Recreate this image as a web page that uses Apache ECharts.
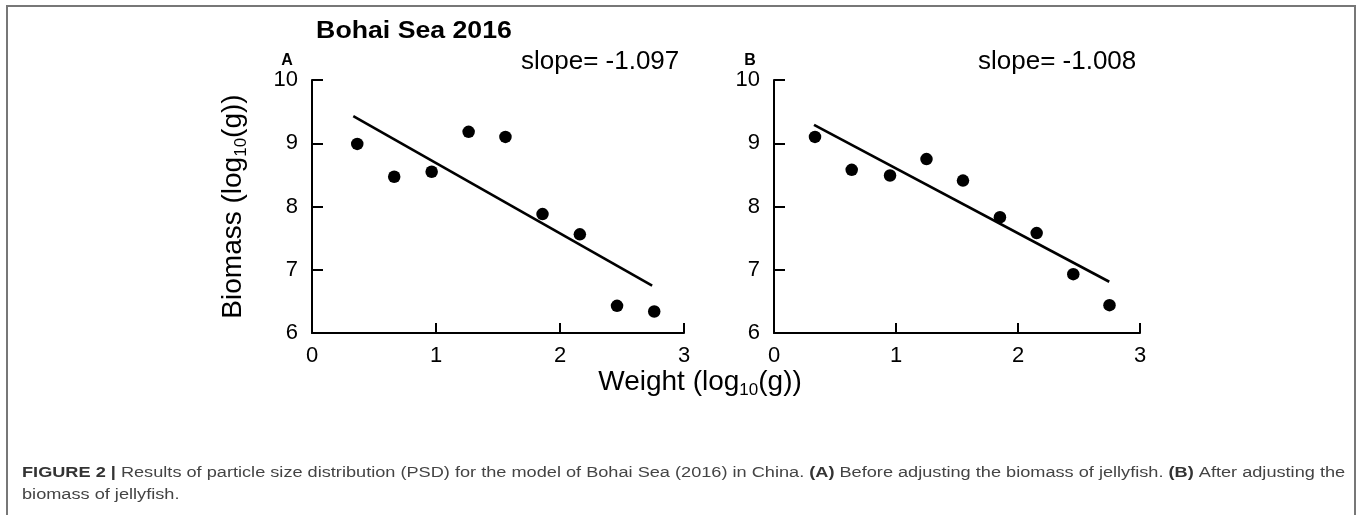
<!DOCTYPE html>
<html>
<head>
<meta charset="utf-8">
<script src="https://cdn.jsdelivr.net/npm/echarts@6/dist/echarts.min.js"></script>
<style>
html,body{margin:0;padding:0;background:#fff;}
#chart{width:1360px;height:515px;}
</style>
</head>
<body>
<div id="chart"></div>
<script>
// ---- data ----
const weightA = [0.365, 0.663, 0.965, 1.263, 1.56, 1.859, 2.16, 2.46, 2.76];
const biomassA = [8.99, 8.47, 8.55, 9.18, 9.10, 7.88, 7.56, 6.43, 6.34];
const weightB = [0.336, 0.637, 0.951, 1.25, 1.549, 1.852, 2.153, 2.453, 2.75];
const biomassB = [9.10, 8.58, 8.49, 8.75, 8.41, 7.83, 7.58, 6.93, 6.44];
const fitX_A = [0.333, 2.743];
const fitY_A = [9.43, 6.75];
const fitX_B = [0.328, 2.748];
const fitY_B = [9.29, 6.81];
const slopeA = '-1.097';
const slopeB = '-1.008';
const xTicks = [0, 1, 2, 3];
const yTicks = [6, 7, 8, 9, 10];

const FONT = '"Liberation Sans", Arial, Helvetica, sans-serif';
const zip = (xs, ys) => xs.map((x, i) => [x, ys[i]]);

const chart = echarts.init(document.getElementById('chart'), null, {renderer: 'canvas'});

function xAxisCfg(idx) {
  return {
    type: 'value', gridIndex: idx,
    min: xTicks[0], max: xTicks[xTicks.length - 1], interval: 1,
    axisLine: {show: true, onZero: false, lineStyle: {color: '#000', width: 2}},
    axisTick: {show: true, inside: true, length: 10, lineStyle: {color: '#000', width: 2}},
    axisLabel: {fontSize: 22, color: '#000', fontFamily: FONT, margin: 12},
    splitLine: {show: false}
  };
}
function yAxisCfg(idx, withName) {
  const c = {
    type: 'value', gridIndex: idx,
    min: yTicks[0], max: yTicks[yTicks.length - 1], interval: 1,
    axisLine: {show: true, onZero: false, lineStyle: {color: '#000', width: 2}},
    axisTick: {show: true, inside: true, length: 11, lineStyle: {color: '#000', width: 2}},
    axisLabel: {fontSize: 22, color: '#000', fontFamily: FONT, margin: 14},
    splitLine: {show: false}
  };
  if (withName) {
    c.name = '{n|Biomass (log}{s|10}{n|(g))}';
    c.nameLocation = 'middle';
    c.nameRotate = 90;
    c.nameGap = 62;
    c.nameTextStyle = {
      rich: {
        n: {fontSize: 28, fontFamily: FONT, color: '#000', lineHeight: 34},
        s: {fontSize: 17, fontFamily: FONT, color: '#000', lineHeight: 17, verticalAlign: 'bottom'}
      }
    };
  }
  return c;
}

const option = {
  animation: false,
  backgroundColor: '#fff',
  grid: [
    {left: 312, top: 80, width: 372, height: 253, containLabel: false},
    {left: 774, top: 80, width: 366, height: 253, containLabel: false}
  ],
  xAxis: [xAxisCfg(0), xAxisCfg(1)],
  yAxis: [yAxisCfg(0, true), yAxisCfg(1, false)],
  series: [
    {type: 'line', xAxisIndex: 0, yAxisIndex: 0, data: zip(fitX_A, fitY_A), showSymbol: false, symbol: 'none',
     lineStyle: {color: '#000', width: 2.6}, z: 2},
    {type: 'scatter', xAxisIndex: 0, yAxisIndex: 0, data: zip(weightA, biomassA), symbol: 'circle', symbolSize: 12.5,
     itemStyle: {color: '#000', opacity: 1}, z: 3},
    {type: 'line', xAxisIndex: 1, yAxisIndex: 1, data: zip(fitX_B, fitY_B), showSymbol: false, symbol: 'none',
     lineStyle: {color: '#000', width: 2.6}, z: 2},
    {type: 'scatter', xAxisIndex: 1, yAxisIndex: 1, data: zip(weightB, biomassB), symbol: 'circle', symbolSize: 12.5,
     itemStyle: {color: '#000', opacity: 1}, z: 3}
  ],
  graphic: [
    {type: 'rect', shape: {x: 7, y: 6, width: 1348, height: 600}, style: {fill: 'none', stroke: '#777', lineWidth: 2}, silent: true},
    {type: 'text', x: 414, y: 32, scaleX: 1.16, style: {text: 'Bohai Sea 2016', font: 'bold 23px ' + FONT, fill: '#000', textAlign: 'center', textVerticalAlign: 'middle'}},
    {type: 'text', x: 287, y: 61, style: {text: 'A', font: 'bold 16px ' + FONT, fill: '#000', textAlign: 'center', textVerticalAlign: 'middle'}},
    {type: 'text', x: 750, y: 61, style: {text: 'B', font: 'bold 16px ' + FONT, fill: '#000', textAlign: 'center', textVerticalAlign: 'middle'}},
    {type: 'text', x: 521, y: 62, style: {text: 'slope= ' + slopeA, font: '26px ' + FONT, fill: '#000', textAlign: 'left', textVerticalAlign: 'middle'}},
    {type: 'text', x: 978, y: 62, style: {text: 'slope= ' + slopeB, font: '26px ' + FONT, fill: '#000', textAlign: 'left', textVerticalAlign: 'middle'}},
    {type: 'text', x: 700, y: 382, style: {
      text: '{n|Weight (log}{s|10}{n|(g))}', textAlign: 'center', textVerticalAlign: 'middle',
      rich: {
        n: {fontSize: 28, fontFamily: FONT, fill: '#000', lineHeight: 34},
        s: {fontSize: 17, fontFamily: FONT, fill: '#000', lineHeight: 17, verticalAlign: 'bottom'}
      }
    }},
    {type: 'text', x: 22, y: 473, scaleX: 1.297, style: {
      text: '{b|FIGURE 2 |} {r|Results of particle size distribution (PSD) for the model of Bohai Sea (2016) in China.} {b|(A)} {r|Before adjusting the biomass of jellyfish.} {b|(B)} {r|After adjusting the}',
      textAlign: 'left', textVerticalAlign: 'middle', font: '14px ' + FONT, fill: '#444',
      rich: {
        b: {fontSize: 14, fontWeight: 'bold', fontFamily: FONT, fill: '#333'},
        r: {fontSize: 14, fontFamily: FONT, fill: '#444'}
      }
    }},
    {type: 'text', x: 22, y: 495, scaleX: 1.297, style: {text: 'biomass of jellyfish.', textAlign: 'left', textVerticalAlign: 'middle', font: '14px ' + FONT, fill: '#444'}}
  ]
};
chart.setOption(option);
</script>
</body>
</html>
